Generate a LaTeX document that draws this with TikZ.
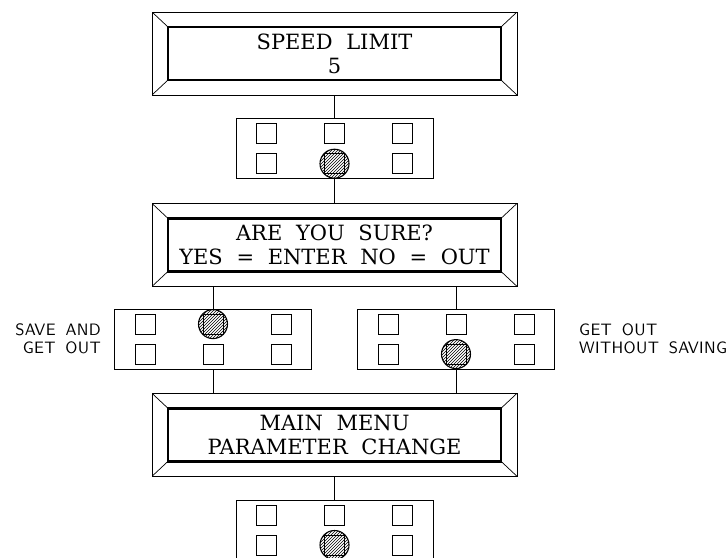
\documentclass[tikz,border=0pt]{standalone}
\usepackage{fontspec}
\newfontfamily\lcdserif{DejaVu Serif}
\newfontfamily\notesans{lmsans10-regular.otf}[LetterSpace=2]
\usetikzlibrary{positioning,calc,patterns}

\newcommand\lcdfont{\lcdserif\fontsize{21}{24}\selectfont\spaceskip=0.65em plus 0pt\relax}
\newcommand\notefont{\notesans\fontsize{16.5}{18}\selectfont\spaceskip=0.6em plus 0pt\relax}

\tikzset{
  lcd/.style={draw, minimum width=365pt, minimum height=83pt, inner sep=0pt, align=center,
    font=\lcdfont,
    path picture={
      \draw[line width=2.4pt] ([shift={(16,15)}]path picture bounding box.north west)
        rectangle ([shift={(-16,-15)}]path picture bounding box.south east);
      \draw (path picture bounding box.north west) -- ++(16,15)
            (path picture bounding box.north east) -- ++(-16,15)
            (path picture bounding box.south west) -- ++(16,-15)
            (path picture bounding box.south east) -- ++(-16,-15);
    }},
  keypad/.style={draw, minimum width=197pt, minimum height=60pt, inner sep=0pt},
  key/.style={draw, minimum size=20pt, inner sep=0pt},
  pressed/.style={circle, draw, line width=1.1pt, minimum size=29pt, inner sep=0pt, pattern=north east lines},
  note/.style={inner sep=0pt, font=\notefont}
}

\begin{document}
\begin{tikzpicture}[x=1pt, y=-1pt, line width=0.7pt]
  \useasboundingbox (0,0) rectangle (728,557);

  % displays and keypads
  \node[lcd] (speed) at (334.5,53.5) {SPEED LIMIT\\5};
  \node[keypad, below=23pt of speed] (kp1) {};
  \node[lcd, below=24pt of kp1] (sure) {ARE YOU SURE?\\YES = ENTER NO = OUT};
  \node[keypad, below=22pt of sure, xshift=-121.5pt] (kpsave) {};
  \node[keypad, below=22pt of sure, xshift=121.5pt] (kpout) {};
  \node[lcd, below=23.5pt of kpsave, xshift=121.5pt] (main) {MAIN MENU\\PARAMETER CHANGE};
  \node[keypad, below=23pt of main] (kp3) {};

  \node[note, left=13pt of kpsave, align=right] (savelbl) {SAVE AND\\GET OUT};
  \node[note, right=24pt of kpout, align=left] (outlbl) {GET OUT\\WITHOUT SAVING};

  % keys, the pressed one hatched
  \foreach \kp/\hit in {kp1/5, kpsave/2, kpout/5, kp3/5}{
    \foreach \dx [count=\c] in {-68,0,68}{
      \foreach \dy [count=\r] in {-15,15}{
        \pgfmathtruncatemacro\k{\c+3*(\r-1)}
        \node[key] (\kp-\k) at ($(\kp)+(\dx,\dy)$) {};
        \ifnum\k=\hit
          \node[pressed] at (\kp-\k) {};
        \fi
      }
    }
  }

  % connectors
  \draw (speed) -- (kp1);
  \draw (kp1) -- (sure);
  \draw (kpsave.north) -- (kpsave.north |- sure.south);
  \draw (kpout.north) -- (kpout.north |- sure.south);
  \draw (kpsave.south) -- (kpsave.south |- main.north);
  \draw (kpout.south) -- (kpout.south |- main.north);
  \draw (main) -- (kp3);
\end{tikzpicture}
\end{document}
